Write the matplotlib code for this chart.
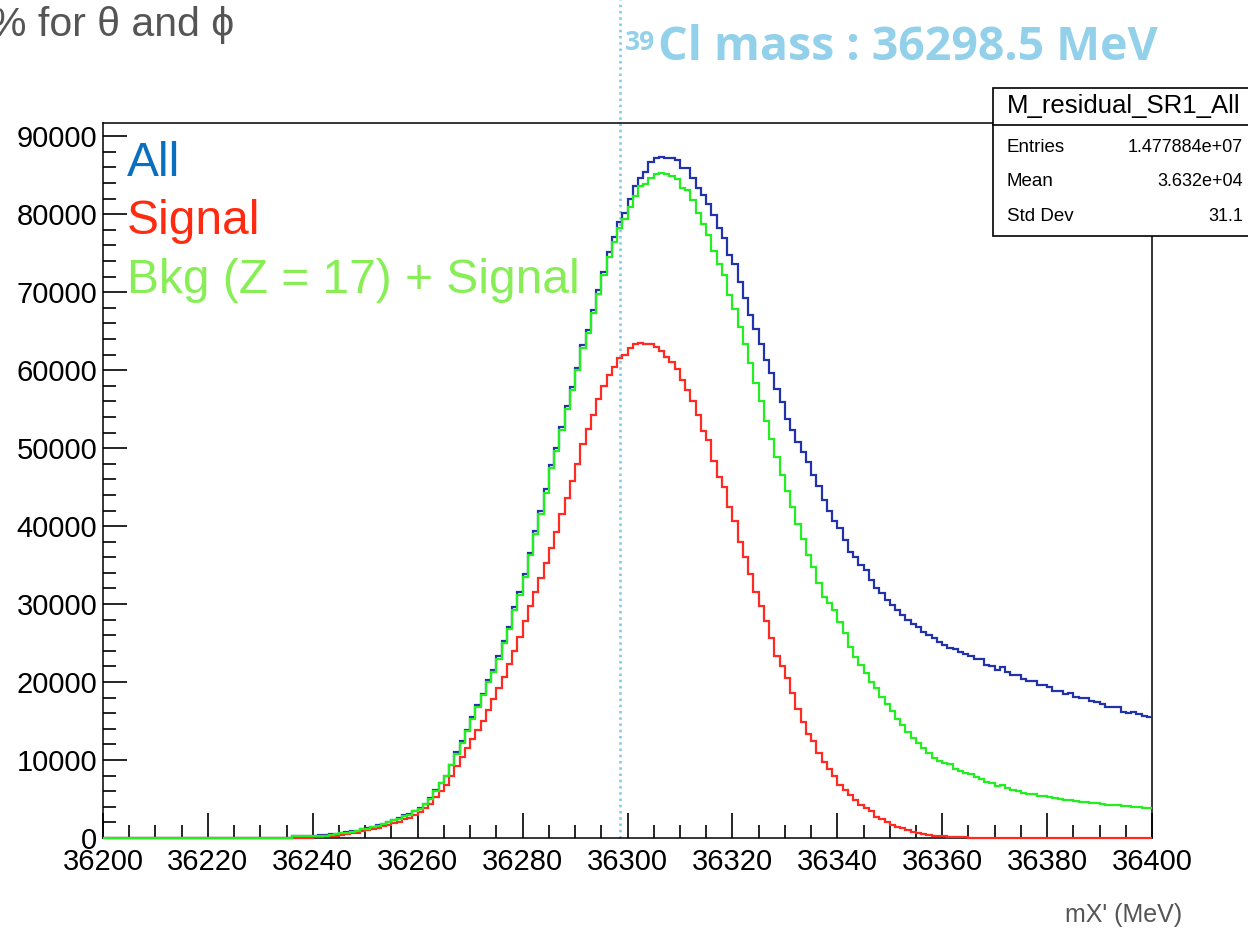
import numpy as np
import matplotlib
matplotlib.use("Agg")
import matplotlib.pyplot as plt
from matplotlib.patches import Rectangle
from matplotlib.lines import Line2D
from matplotlib.ticker import MultipleLocator, FuncFormatter

plt.rcParams['font.family'] = ['Liberation Sans', 'DejaVu Sans']

# binning of the histogram: 1 MeV bins from 36200 to 36400
x_lo, x_hi = 36200, 36400
bin_edges = np.arange(x_lo, x_hi + 1, 1)

# counts per bin, in thousands
all_k = [0] * 36 + [
    0.3, 0.3, 0.3, 0.3, 0.3, 0.35, 0.35,
    0.45, 0.5, 0.65, 0.75, 0.85, 0.95, 1.15,
    1.25, 1.45, 1.65, 1.85, 2.05, 2.35, 2.6, 2.9, 3.1, 3.5,
    3.8, 4.4, 5.1, 6.1, 7.1, 8.0, 9.4, 11.0, 12.4, 13.9,
    15.5, 17.0, 18.5, 20.3, 21.6, 23.3, 25.3, 27.1, 29.6, 31.5,
    33.8, 36.6, 39.4, 42.0, 44.7, 47.8, 50.0, 52.7, 55.4, 57.9,
    60.3, 63.2, 65.1, 67.7, 70.3, 72.6, 75.2, 77.1, 79.0, 80.1,
    82.0, 83.6, 84.7, 85.4, 86.7, 87.2, 87.4, 87.2, 87.2, 87.0,
    85.9, 85.9, 84.7, 83.3, 82.5, 81.3, 79.9, 78.2, 77.0, 74.8,
    73.6, 71.3, 69.3, 67.1, 65.3, 63.3, 61.3, 59.6, 57.6, 55.9,
    53.8, 52.3, 50.8, 49.5, 48.2, 46.5, 45.1, 43.3, 42.0, 40.6,
    39.7, 38.2, 36.7, 36.1, 35.0, 34.4, 33.1, 32.0, 31.4, 30.5,
    29.9, 29.2, 28.6, 27.9, 27.4, 27.1, 26.4, 26.0, 25.6, 25.2,
    24.7, 24.4, 24.2, 23.8, 23.6, 23.3, 22.9, 22.9, 22.2, 22.1,
    21.6, 21.9, 21.3, 20.9, 20.9, 20.4, 20.1, 20.1, 19.6, 19.6,
    19.4, 18.9, 18.9, 18.5, 18.6, 18.1, 17.9, 17.9, 17.6, 17.4,
    17.2, 16.8, 16.8, 16.8, 16.2, 16.0, 16.2, 15.9, 15.7, 15.5,
]

signal_k = [0] * 40 + [
    0.1, 0.15, 0.2, 0.25, 0.3, 0.4, 0.5, 0.6, 0.7, 0.85,
    1.0, 1.15, 1.3, 1.5, 1.7, 1.9, 2.1, 2.4, 2.6, 3.0,
    3.3, 3.8, 4.4, 5.2, 6.0, 6.8, 8.0, 9.2, 10.4, 11.5,
    12.7, 13.8, 15.0, 16.4, 17.8, 19.2, 20.7, 22.3, 24.0, 25.8,
    27.8, 29.7, 31.5, 33.3, 35.3, 37.2, 39.2, 41.5, 43.6, 45.8,
    48.0, 50.5, 52.5, 54.2, 56.3, 58.0, 59.4, 60.4, 61.5, 61.9,
    62.8, 63.4, 63.5, 63.3, 63.4, 63.0, 62.5, 61.7, 61.0, 60.2,
    58.7, 57.5, 56.1, 54.3, 52.2, 51.0, 48.4, 46.3, 45.0, 42.5,
    40.6, 38.0, 36.0, 33.9, 31.6, 29.8, 27.8, 25.7, 23.4, 22.0,
    20.5, 18.6, 16.6, 14.9, 13.4, 12.4, 10.9, 9.8, 8.9, 7.9,
    6.8, 6.2, 5.5, 4.9, 4.2, 3.8, 3.4, 2.7, 2.4, 2.1,
    1.7, 1.45, 1.25, 1.0, 0.8, 0.6, 0.5, 0.4, 0.3, 0.25,
    0.2, 0.15, 0.12, 0.1, 0.08, 0.06, 0.05, 0.03,
] + [0] * 32

bkg_sig_k = [0] * 36 + [
    0.3, 0.3, 0.3, 0.3, 0.3, 0.3, 0.3,
    0.4, 0.45, 0.6, 0.7, 0.8, 0.9, 1.1,
    1.2, 1.4, 1.6, 1.8, 2.0, 2.3, 2.5, 2.8, 3.0, 3.4,
    3.7, 4.3, 5.0, 6.0, 7.0, 7.9, 9.3, 10.8, 12.2, 13.7,
    15.3, 16.8, 18.3, 20.0, 21.3, 23.0, 25.0, 26.8, 29.3, 31.2,
    33.5, 36.3, 39.0, 41.6, 44.3, 47.4, 49.6, 52.3, 55.0, 57.5,
    60.0, 62.8, 64.8, 67.3, 69.8, 72.2, 74.5, 76.4, 78.2, 79.4,
    80.9, 82.4, 83.6, 83.9, 84.6, 85.1, 85.3, 85.1, 84.9, 84.5,
    83.4, 83.1, 81.8, 80.2, 78.7, 77.3, 75.3, 73.6, 72.2, 69.6,
    67.9, 65.6, 63.4, 60.9, 58.4, 56.0, 53.5, 51.2, 48.9, 46.6,
    44.5, 42.5, 40.3, 38.3, 36.3, 34.8, 32.7, 30.9, 30.1, 29.2,
    27.7, 26.3, 24.5, 23.2, 22.2, 21.1, 20.0, 19.2, 18.1, 17.2,
    16.3, 15.3, 14.5, 13.6, 12.8, 12.2, 11.6, 10.9, 10.3, 9.9,
    9.65, 9.5, 8.9, 8.6, 8.4, 8.2, 7.8, 7.6, 7.2, 7.0,
    6.7, 6.8, 6.4, 6.1, 6.0, 5.8, 5.7, 5.6, 5.4, 5.35,
    5.2, 5.1, 5.0, 4.9, 4.85, 4.7, 4.65, 4.6, 4.5, 4.45,
    4.4, 4.25, 4.2, 4.2, 4.15, 4.05, 4.0, 3.95, 3.9, 3.8,
]

cl39_mass = 36298.5
y_max = 91700
stats = [("Entries", "1.477884e+07"), ("Mean", "3.632e+04"), ("Std Dev", "31.1")]

W, H = 1248, 930
def fx(px):
    return px / W
def fy(py):
    return 1 - py / H

fig = plt.figure(figsize=(W / 100, H / 100), dpi=100)
ax = fig.add_axes([fx(103), fy(838), fx(1152) - fx(103), fy(123) - fy(838)])

ax.stairs(np.array(all_k) * 1000, bin_edges, baseline=None, color='#2233aa', lw=1.6, zorder=3, clip_on=False)
ax.stairs(np.array(signal_k) * 1000, bin_edges, baseline=None, color='#ff2a22', lw=1.6, zorder=3.1, clip_on=False)
ax.stairs(np.array(bkg_sig_k) * 1000, bin_edges, baseline=None, color='#22ee22', lw=1.6, zorder=3.2, clip_on=False)

ax.set_xlim(x_lo, x_hi)
ax.set_ylim(0, y_max)

ax.axvline(cl39_mass, ymin=0, ymax=838 / (838 - 123), color='#7ec8e6', lw=1.8,
           ls=(0, (1, 1.5)), clip_on=False, zorder=1)

ax.xaxis.set_major_locator(MultipleLocator(20))
ax.xaxis.set_minor_locator(MultipleLocator(5))
ax.yaxis.set_major_locator(MultipleLocator(10000))
ax.yaxis.set_minor_locator(MultipleLocator(2000))
ax.yaxis.set_major_formatter(FuncFormatter(lambda v, p: f"{int(v)}"))
ax.tick_params(which='both', direction='in', top=False, right=False, width=1.2, labelsize=21)
ax.tick_params(axis='x', which='major', length=18, pad=7)
ax.tick_params(axis='x', which='minor', length=9.5)
ax.tick_params(axis='y', which='major', length=17, pad=4)
ax.tick_params(axis='y', which='minor', length=9)
for s in ax.spines.values():
    s.set_linewidth(1.1)

# legend text inside the frame
fig.text(fx(127), fy(176), "All", color='#0b6fc0', fontsize=34.5, ha='left', va='baseline')
fig.text(fx(127), fy(234), "Signal", color='#ff2a10', fontsize=34.5, ha='left', va='baseline')
fig.text(fx(127), fy(293), "Bkg (Z = 17) + Signal", color='#88ee55', fontsize=34.5, ha='left', va='baseline')

# slide text around the plot
fig.text(fx(-10), fy(36), "% for θ and ϕ", color='#555555', fontsize=29.5, ha='left', va='baseline')
fig.text(fx(625), fy(50), "39", color='#93d0ea', fontsize=19, fontweight='bold',
         family=['Open Sans', 'DejaVu Sans'], ha='left', va='baseline')
fig.text(fx(658), fy(60), "Cl mass : 36298.5 MeV", color='#93d0ea', fontsize=33.5, fontweight='bold',
         family=['Open Sans', 'DejaVu Sans'], ha='left', va='baseline')
fig.text(fx(1182), fy(915), "mX' (MeV)", color='#555555', fontsize=18, ha='right', va='center')

# stat box
fig.add_artist(Rectangle((fx(993), fy(236)), fx(1260) - fx(993), fy(88) - fy(236),
                         transform=fig.transFigure, facecolor='white', edgecolor='black', lw=1.2, zorder=5))
fig.add_artist(Line2D([fx(993), fx(1248)], [fy(125), fy(125)], transform=fig.transFigure,
                      color='black', lw=1.2, zorder=6))
fig.text(fx(1007), fy(106), "M_residual_SR1_All", fontsize=18.5, ha='left', va='center', zorder=7)
for i, (name, val) in enumerate(stats):
    yy = fy(147 + i * 34.5)
    fig.text(fx(1007), yy, name, fontsize=13.5, ha='left', va='center', zorder=7)
    fig.text(fx(1243), yy, val, fontsize=13, ha='right', va='center', zorder=7)

fig.savefig("out.png", dpi=100)
